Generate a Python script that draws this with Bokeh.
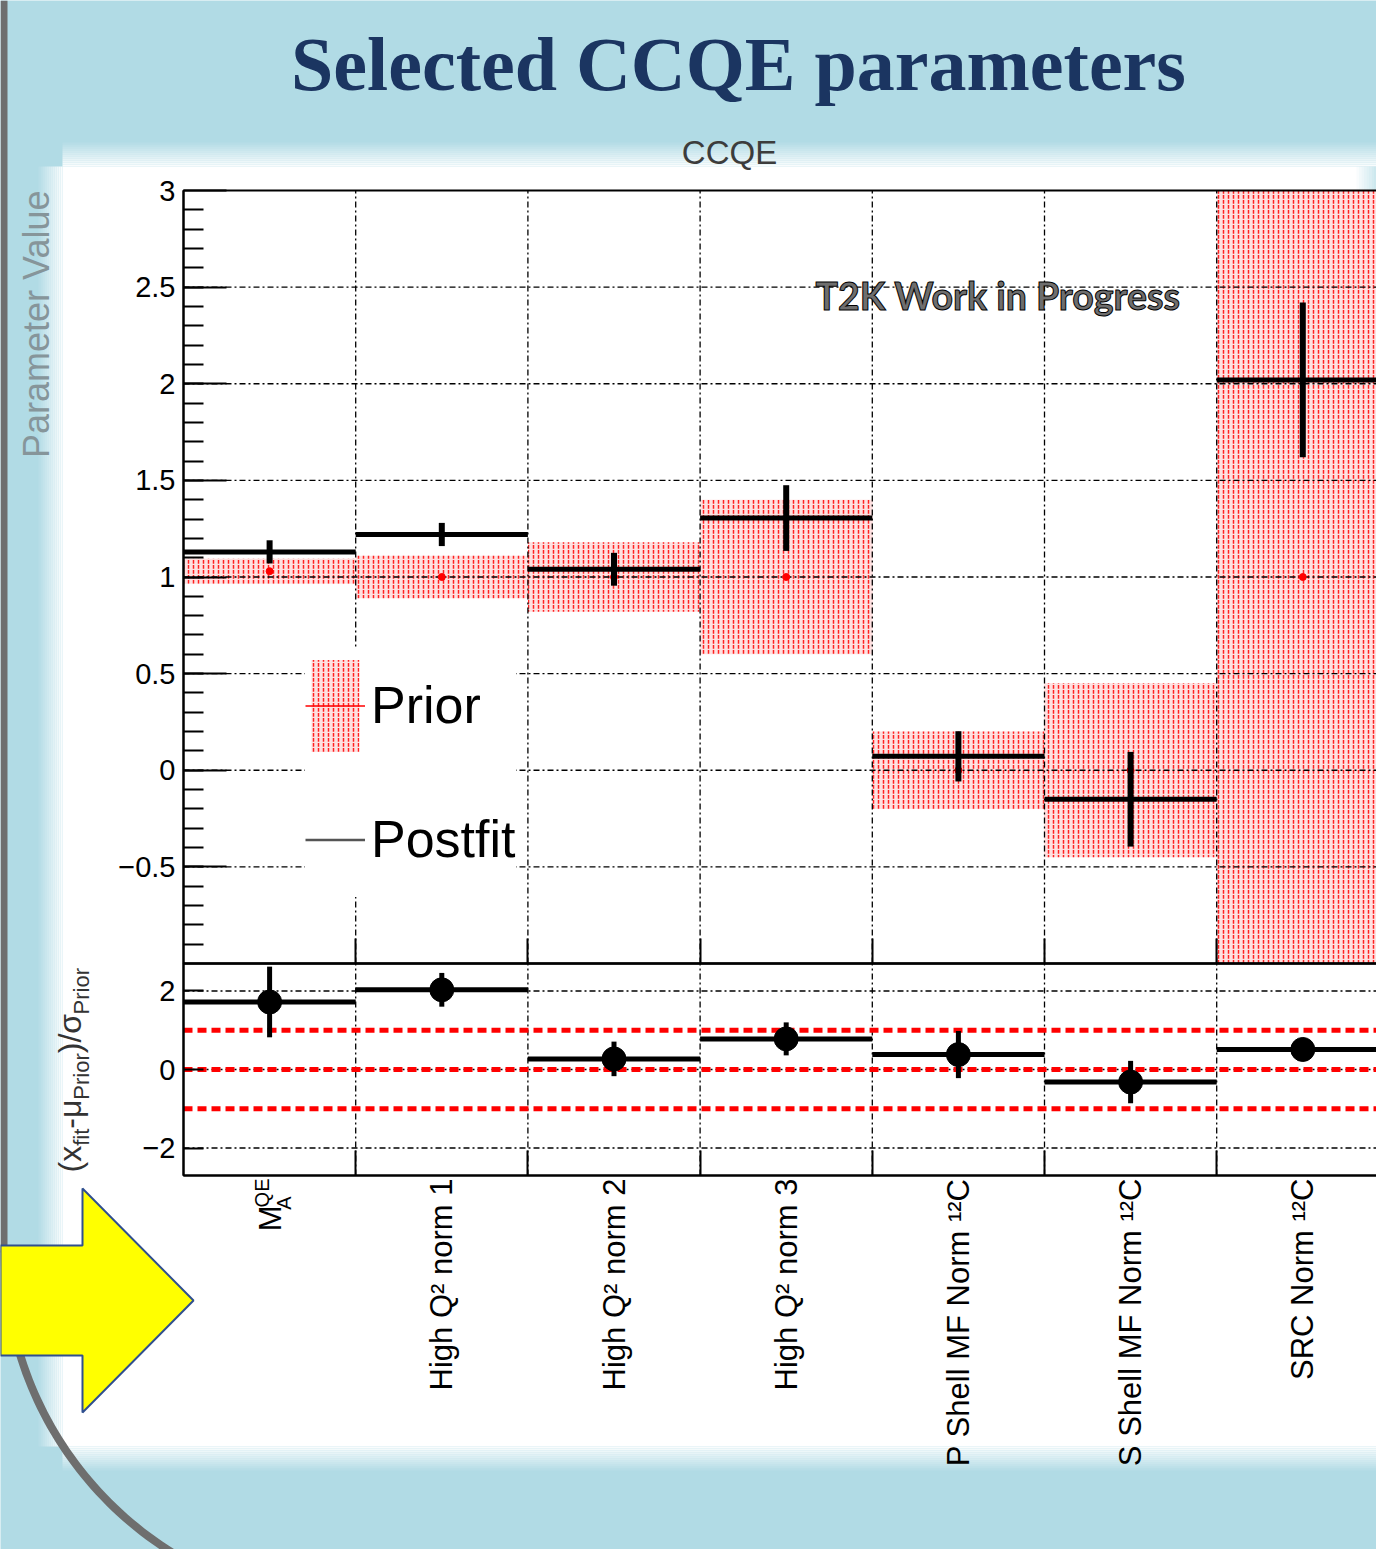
import math
import numpy as np
from bokeh.plotting import figure
from bokeh.models import (Range1d, FixedTicker, BoxAnnotation, LinearAxis, Grid,
                          Label, Legend, LegendItem, ColumnDataSource)
from bokeh.embed import file_html
from bokeh.resources import INLINE

# ---------------- data ----------------
categories = ["M_A^QE", "High Q² norm 1", "High Q² norm 2", "High Q² norm 3",
              "P Shell MF Norm ¹²C", "S Shell MF Norm ¹²C", "SRC Norm ¹²C"]
ma_parts = [("M", "main"), ("QE", "sup"), ("A", "sub")]
prior_mean = [1.03, 1.0, 1.0, 1.0, 0.0, 0.0, 1.0]
prior_err = [0.065, 0.11, 0.18, 0.40, 0.20, 0.45, 2.0]
postfit_mean = [1.13, 1.22, 1.04, 1.305, 0.072, -0.15, 2.02]
postfit_err = [0.06, 0.06, 0.085, 0.17, 0.13, 0.245, 0.40]
pull = [1.72, 2.03, 0.27, 0.78, 0.38, -0.32, 0.51]
pull_err = [0.90, 0.43, 0.44, 0.42, 0.60, 0.54, 0.20]
pull_bands = [-1, 0, 1]
top_ticks = [-0.5, 0, 0.5, 1, 1.5, 2, 2.5, 3]
bottom_ticks = [-2, 0, 2]
top_limits = (-1.0, 3.0)
pull_limits = (-2.7, 2.7)

title_text = "Selected CCQE parameters"
panel_title = "CCQE"
watermark = "T2K Work in Progress"
top_ylabel = "Parameter Value"
bottom_ylabel_parts = [("(x", "main"), ("fit", "sub"), ("-μ", "main"),
                       ("Prior", "sub"), (")/σ", "main"), ("Prior", "sub")]
legend_labels = ["Prior", "Postfit"]

# ---------------- page geometry (pixels) ----------------
PAGE_W, PAGE_H = 1376, 1549
X0_PX, BIN_PX = 183.0, 172.2
TOP_PX, MID_PX, BOT_PX = 190.0, 963.0, 1175.0
BLUE = "#b1dbe5"
FONT = "Liberation Sans"
GRID_DASH = "6 3 2 3"
BASE_FIX = 0.34   # svg text baseline correction (fraction of font size)

n = len(categories)
left = list(range(n))
right = [i + 1 for i in range(n)]
centers = [i + 0.5 for i in range(n)]
boundaries = list(range(1, n))

x_start = -X0_PX / BIN_PX
x_end = (PAGE_W - X0_PX) / BIN_PX
ky = (top_limits[1] - top_limits[0]) / (MID_PX - TOP_PX)
y_end = top_limits[1] + TOP_PX * ky
y_start = top_limits[0] - (PAGE_H - MID_PX) * ky
kp = (pull_limits[1] - pull_limits[0]) / (BOT_PX - MID_PX)
p_end = pull_limits[1] + MID_PX * kp
p_start = pull_limits[0] - (PAGE_H - BOT_PX) * kp


def key(v):
    return int(v) if float(v).is_integer() else v


def fmt(v):
    return ("%g" % v).replace("-", "−")


p = figure(width=PAGE_W, height=PAGE_H,
           x_range=Range1d(x_start, x_end), y_range=Range1d(y_start, y_end),
           x_axis_location=None, y_axis_location=None,
           output_backend="svg", toolbar_location=None,
           min_border_left=0, min_border_right=0, min_border_top=0, min_border_bottom=0,
           background_fill_color=BLUE, border_fill_color=BLUE, outline_line_color=None)
p.center = [c for c in p.center if not isinstance(c, Grid)]
p.extra_x_ranges = {"px": Range1d(0, PAGE_W)}
p.extra_y_ranges = {"py": Range1d(PAGE_H, 0), "pull": Range1d(p_start, p_end)}


# ---------------- slide decorations (pixel coordinates) ----------------
def deco_rect(x0, x1, y0, y1, color, alpha=1.0):
    p.quad(left=[x0], right=[x1], top=[y0], bottom=[y1], x_range_name="px", y_range_name="py",
           fill_color=color, fill_alpha=alpha, line_color=None, level="image")


WX0, WX1, WY0, WY1 = 62, PAGE_W + 2, 166, 1446
deco_rect(WX0, WX1, WY0, WY1, "white")
steps = 12
for k in range(steps):
    a = 1.0 - (k + 1) / (steps + 1)
    deco_rect(WX0, WX1, WY0 - (k + 1) * 2, WY0 - k * 2, "white", a)          # top fade
    deco_rect(WX0 - (k + 1) * 2, WX0 - k * 2, WY0, WY1, "white", a)          # left fade
    deco_rect(WX0, WX1, WY1 + k * 2, WY1 + (k + 1) * 2, "white", a)          # bottom fade
for k in range(8):                                                            # right-top tint
    deco_rect(1356 + k * 2.5, 1356 + (k + 1) * 2.5, WY0, 190 + 8 * k, BLUE, 0.08 * (k + 1))
deco_rect(0, 7, 0, 1252, "#6e6e6e")
cx, cy = 360.0, 1250.0
angs = np.linspace(math.radians(110), math.radians(180), 60)
ro, ri = 360.0, 352.0
arc_x = [cx + ro * math.cos(t) for t in angs] + [cx + ri * math.cos(t) for t in angs[::-1]]
arc_y = [cy + ro * math.sin(t) for t in angs] + [cy + ri * math.sin(t) for t in angs[::-1]]
p.patch(arc_x, arc_y, x_range_name="px", y_range_name="py",
        fill_color="#6e6e6e", line_color=None, level="image")
arrow_x = [0, 82, 82, 193, 82, 82, 0]
arrow_y = [1245, 1245, 1188, 1300, 1412, 1355, 1355]
p.patch(arrow_x, arrow_y, x_range_name="px", y_range_name="py",
        fill_color="#ffff00", line_color="#2f4f8f", line_width=2, level="image")

# ---------------- top panel ----------------
prior_src = ColumnDataSource(dict(
    left=left, right=right,
    top=[m + e for m, e in zip(prior_mean, prior_err)],
    bottom=[m - e for m, e in zip(prior_mean, prior_err)],
    x=centers, y=prior_mean))
post_src = ColumnDataSource(dict(
    x0=left, x1=right, xc=centers, y=postfit_mean,
    lo=[m - e for m, e in zip(postfit_mean, postfit_err)],
    hi=[m + e for m, e in zip(postfit_mean, postfit_err)]))

prior_r = p.quad(left="left", right="right", top="top", bottom="bottom", source=prior_src,
                 fill_color="#ffe0e0", fill_alpha=1.0, line_color=None,
                 hatch_pattern="vertical_dash", hatch_color="#ff2020",
                 hatch_scale=5, hatch_weight=1.5, level="underlay")

grid_kw = dict(line_color="black", line_width=1.3, line_dash=GRID_DASH)
p.segment(x0=[0] * (len(top_ticks) - 1), x1=[n] * (len(top_ticks) - 1),
          y0=top_ticks[:-1], y1=top_ticks[:-1], **grid_kw)
p.segment(x0=boundaries, x1=boundaries, y0=[top_limits[0]] * len(boundaries),
          y1=[top_limits[1]] * len(boundaries), **grid_kw)

p.scatter("x", "y", source=prior_src, size=7, color="red")
post_h = p.segment(x0="x0", y0="y", x1="x1", y1="y", source=post_src,
                   line_width=5, line_color="black")
p.segment(x0="xc", y0="lo", x1="xc", y1="hi", source=post_src,
          line_width=6, line_color="black")
nan_src = ColumnDataSource(dict(x0=np.array([np.nan]), y0=np.array([np.nan]),
                                x1=np.array([np.nan]), y1=np.array([np.nan])))
prior_leg = p.segment(x0="x0", y0="y0", x1="x1", y1="y1", source=nan_src,
                      line_color="red", line_width=1.5)
post_leg = p.segment(x0="x0", y0="y0", x1="x1", y1="y1", source=nan_src,
                     line_color="#555555", line_width=2.5)

p.add_layout(BoxAnnotation(left=0, right=n, bottom=top_limits[0], top=top_limits[1],
                           fill_color=None, line_color="black", line_alpha=1.0,
                           line_width=2))

yax = LinearAxis(fixed_location=0, bounds=top_limits,
                 ticker=FixedTicker(ticks=top_ticks,
                                    minor_ticks=[round(-0.9 + 0.1 * k, 2) for k in range(39)]))
yax.major_label_overrides = {key(v): fmt(v) for v in top_ticks}
yax.major_tick_in, yax.major_tick_out = 43, 0
yax.minor_tick_in, yax.minor_tick_out = 20, 0
yax.axis_line_width = 2
yax.major_tick_line_width = 2
yax.minor_tick_line_width = 2
yax.major_label_text_font = FONT
yax.major_label_text_font_size = "29px"
yax.major_label_text_color = "black"
yax.major_label_standoff = 8
p.add_layout(yax, "left")

xax_top = LinearAxis(fixed_location=top_limits[0], bounds=(0, n),
                     ticker=FixedTicker(ticks=[], minor_ticks=boundaries))
xax_top.minor_tick_in, xax_top.minor_tick_out = 25, 0
xax_top.major_tick_in, xax_top.major_tick_out = 0, 0
xax_top.major_label_text_font_size = "0px"
xax_top.axis_line_width = 2
xax_top.minor_tick_line_width = 2
p.add_layout(xax_top, "below")

# ---------------- bottom (pull) panel ----------------
p.segment(x0=[0] * len(bottom_ticks), x1=[n] * len(bottom_ticks),
          y0=bottom_ticks, y1=bottom_ticks, y_range_name="pull", **grid_kw)
p.segment(x0=boundaries, x1=boundaries, y0=[pull_limits[0]] * len(boundaries),
          y1=[pull_limits[1]] * len(boundaries), y_range_name="pull", **grid_kw)
p.segment(x0=[0] * len(pull_bands), x1=[n] * len(pull_bands), y0=pull_bands, y1=pull_bands,
          y_range_name="pull", line_color="#ff0000", line_width=5, line_dash="9 5")

pull_src = ColumnDataSource(dict(
    x0=left, x1=right, xc=centers, y=pull,
    lo=[v - e for v, e in zip(pull, pull_err)],
    hi=[v + e for v, e in zip(pull, pull_err)]))
p.segment(x0="x0", y0="y", x1="x1", y1="y", source=pull_src, y_range_name="pull",
          line_width=5, line_color="black")
p.segment(x0="xc", y0="lo", x1="xc", y1="hi", source=pull_src, y_range_name="pull",
          line_width=5, line_color="black")
p.scatter("xc", "y", source=pull_src, y_range_name="pull", size=24, color="black")

p.add_layout(BoxAnnotation(left=0, right=n, bottom=pull_limits[0], top=pull_limits[1],
                           y_range_name="pull", fill_color=None, line_color="black",
                           line_alpha=1.0, line_width=2))

yax2 = LinearAxis(y_range_name="pull", fixed_location=0, bounds=pull_limits,
                  ticker=FixedTicker(ticks=bottom_ticks, minor_ticks=[]))
yax2.major_label_overrides = {key(v): fmt(v) for v in bottom_ticks}
yax2.major_tick_in, yax2.major_tick_out = 20, 0
yax2.minor_tick_in, yax2.minor_tick_out = 0, 0
yax2.axis_line_width = 2
yax2.major_tick_line_width = 2
yax2.major_label_text_font = FONT
yax2.major_label_text_font_size = "29px"
yax2.major_label_text_color = "black"
yax2.major_label_standoff = 8
p.add_layout(yax2, "left")

overrides = {c: lab for c, lab in zip(centers, categories)}
overrides[centers[0]] = ""
xax = LinearAxis(y_range_name="pull", fixed_location=pull_limits[0], bounds=(0, n),
                 ticker=FixedTicker(ticks=centers, minor_ticks=boundaries))
xax.major_label_overrides = overrides
xax.major_label_orientation = math.pi / 2
xax.major_tick_in, xax.major_tick_out = 0, 0
xax.minor_tick_in, xax.minor_tick_out = 25, 0
xax.axis_line_width = 2
xax.minor_tick_line_width = 2
xax.major_label_text_font = FONT
xax.major_label_text_font_size = "31px"
xax.major_label_text_color = "black"
xax.major_label_standoff = 3
p.add_layout(xax, "below")

# ---------------- legend ----------------
legend = Legend(items=[LegendItem(label=legend_labels[0], renderers=[prior_r, prior_leg]),
                       LegendItem(label=legend_labels[1], renderers=[post_leg])],
                location=(305, PAGE_H - 896.5), orientation="vertical",
                glyph_width=60, glyph_height=115, spacing=19, padding=4, margin=0,
                label_standoff=6, label_text_font=FONT, label_text_font_size="52px",
                label_text_color="black",
                background_fill_color="white", background_fill_alpha=1.0,
                border_line_color=None)
p.add_layout(legend)


# ---------------- texts ----------------
def px_label(x, y, text, size, rotated=False, **kw):
    fix = BASE_FIX * size
    if rotated:
        x, y = x - fix, y
    else:
        y = y - fix
    p.add_layout(Label(x=x, y=y, x_range_name="px", y_range_name="py", text=text,
                       text_font_size=f"{size}px", text_baseline="alphabetic",
                       angle=(math.pi / 2 if rotated else 0), **kw))


px_label(738, 89, title_text, 76, text_font="Liberation Serif", text_font_style="bold",
         text_color="#1b3561", text_align="center")
px_label(729, 163, panel_title, 33, text_font=FONT, text_color="#3c3c3c",
         text_align="center")
px_label(815, 308, watermark, 37.5, text_font="Lato", text_font_style="bold",
         text_color="#6e6e6e", text_outline_color="black", text_align="left")
px_label(48, 190, top_ylabel, 36, rotated=True, text_font=FONT,
         text_color="#86959a", text_align="right")

# M_A^QE composite tick label
ma_spec = {"main": (31, 11, 1205), "sup": (20, -1, 1178), "sub": (20, 21, 1196)}
for txt, kind in ma_parts:
    size, xoff, yend = ma_spec[kind]
    p.add_layout(Label(x=centers[0], x_offset=xoff - BASE_FIX * size, y=yend,
                       y_range_name="py", text=txt,
                       text_font=FONT, text_font_size=f"{size}px", text_color="black",
                       angle=math.pi / 2, text_align="right", text_baseline="alphabetic"))

# pull-axis title with subscripts (bottom-to-top)
WID = {"(": 333, ")": 333, "x": 500, "f": 278, "i": 222, "t": 278, "-": 333,
       "μ": 576, "P": 667, "r": 333, "o": 556, "/": 278, "σ": 600}
spec = {"main": (32, 80), "sub": (22, 88)}
ypos = 1172.0
for txt, kind in bottom_ylabel_parts:
    size, xb = spec[kind]
    px_label(xb, ypos, txt, size, rotated=True, text_font=FONT,
             text_color="#333333", text_align="left")
    ypos -= sum(WID.get(ch, 556) for ch in txt) * size / 1000.0

with open("out.html", "w") as f:
    f.write(file_html(p, INLINE, title="Selected CCQE parameters"))
